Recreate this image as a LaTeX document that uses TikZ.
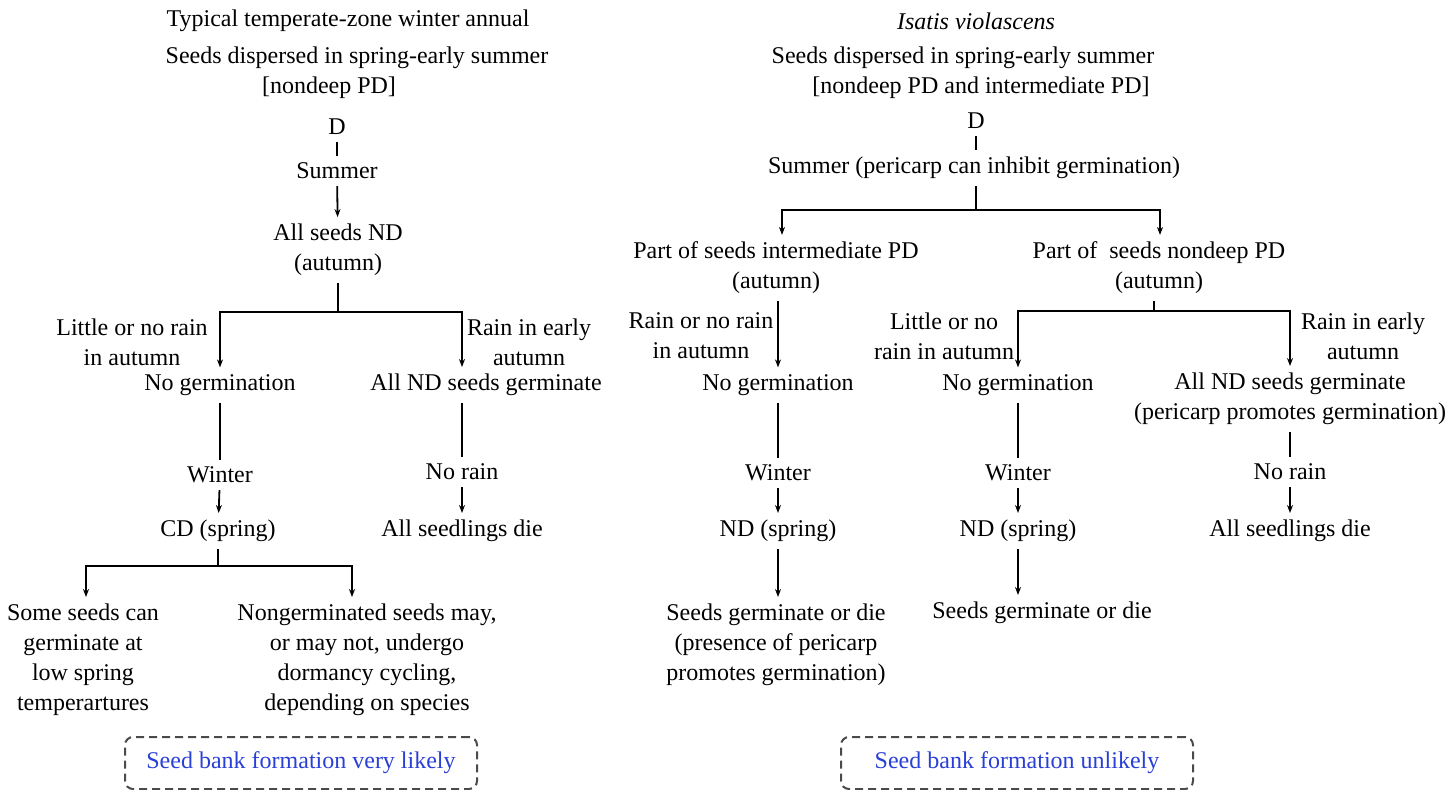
\documentclass[tikz,border=0pt]{standalone}
\usepackage{fontspec}
\setmainfont{Liberation Serif}
\usepackage{tikz}
\usetikzlibrary{arrows.meta,positioning,calc}
\definecolor{bankblue}{HTML}{2A3FD6}
\definecolor{bankgray}{HTML}{4A4A4A}

\begin{document}
\begin{tikzpicture}[
  x=0.5pt,y=-0.5pt,
  >={Stealth[length=4pt,width=3pt]},
  every node/.style={font=\fontsize{12}{15}\selectfont,align=center},
  flow/.style={->,line width=0.9pt},
  link/.style={line width=0.9pt},
  bank/.style={draw=bankgray,line width=1pt,dash pattern=on 4pt off 2.5pt,
    rounded corners=4pt,text=bankblue,minimum width=176pt,minimum height=26pt}
]
\useasboundingbox (0,0) rectangle (1456,790);

% typical winter annual
\node (titleL) at (348,21) {Typical temperate-zone winter annual};
\node (dispL) at (357,58) {Seeds dispersed in spring-early summer};
\node (pdL) at (329,88) {[nondeep PD]};
\node (DL) at (337,127) {D};
\node (summerL) at (337,171) {Summer};
\node (allNDL) at (338,250) {All seeds ND\\(autumn)};
\node (littleL) at (132,342) {Little or no rain\\in autumn};
\node (rainEarlyL) at (529,342) {Rain in early\\autumn};
\node (noGermL) at (220,385) {No germination};
\node (allGermL) at (486,385) {All ND seeds germinate};
\node (winterL) at (220,475) {Winter};
\node (noRainL) at (462,472) {No rain};
\node (cdL) at (218,531) {CD (spring)};
\node (dieL) at (462,531) {All seedlings die};
\node (someL) at (83,660) {Some seeds can\\germinate at\\low spring\\temperartures};
\node (nongL) at (367,660) {Nongerminated seeds may,\\or may not, undergo\\dormancy cycling,\\depending on species};
\node[bank] (bankL) at (301,763) {Seed bank formation very likely};

\coordinate (fL1) at (220,312);
\coordinate (fR1) at (462,312);
\coordinate (fL2) at (86,566);
\coordinate (fR2) at (352,566);

\draw[link] (DL) -- (summerL);
\draw[flow] (summerL) -- (allNDL);
\draw[flow] (allNDL.south) |- (fL1) -- (fL1 |- noGermL.north);
\draw[flow] (allNDL.south) |- (fR1) -- (fR1 |- allGermL.north);
\draw[link] (noGermL) -- (winterL);
\draw[flow] (winterL) -- (cdL);
\draw[flow] (cdL.south) |- (fL2) -- (fL2 |- someL.north);
\draw[flow] (cdL.south) |- (fR2) -- (fR2 |- nongL.north);
\draw[link] (allGermL.south -| noRainL) -- (noRainL);
\draw[flow] (noRainL) -- (dieL);

% Isatis violascens
\node (titleR) at (976,21) {\itshape Isatis violascens};
\node (dispR) at (963,58) {Seeds dispersed in spring-early summer};
\node (pdR) at (981,88) {[nondeep PD and intermediate PD]};
\node (DR) at (976,121) {D};
\node (summerR) at (974,168) {Summer (pericarp can inhibit germination)};
\node (partIntR) at (776,268) {Part of seeds intermediate PD\\(autumn)};
\node (partNonR) at (1159,268) {Part of \ seeds nondeep PD\\(autumn)};
\node (rainOrR) at (701,336) {Rain or no rain\\in autumn};
\node (littleR) at (944,336) {Little or no\\rain in autumn};
\node (rainEarlyR) at (1363,336) {Rain in early\\autumn};
\node (noGermR1) at (778,385) {No germination};
\node (noGermR2) at (1018,385) {No germination};
\node (allGermR) at (1290,399) {All ND seeds germinate\\(pericarp promotes germination)};
\node (winterR1) at (778,473) {Winter};
\node (winterR2) at (1018,473) {Winter};
\node (noRainR) at (1290,472) {No rain};
\node (ndR1) at (778,531) {ND (spring)};
\node (ndR2) at (1018,531) {ND (spring)};
\node (dieR) at (1290,531) {All seedlings die};
\node (germR1) at (776,645) {Seeds germinate or die\\(presence of pericarp\\promotes germination)};
\node (germR2) at (1042,613) {Seeds germinate or die};
\node[bank] (bankR) at (1017,763) {Seed bank formation unlikely};

\coordinate (fL3) at (782,210);
\coordinate (fR3) at (1160,210);
\coordinate (fM4) at (1154,311);

\draw[link] (DR) -- (summerR.north -| DR);
\draw[flow] (summerR.south -| DR) |- (fL3) -- (fL3 |- partIntR.north);
\draw[flow] (summerR.south -| DR) |- (fR3) -- (fR3 |- partNonR.north);
\draw[flow] (partIntR.south -| noGermR1) -- (noGermR1);
\draw[link] (noGermR1) -- (winterR1);
\draw[flow] (winterR1) -- (ndR1);
\draw[flow] (ndR1.south) -- (ndR1.south |- germR1.north);
\draw[link] (partNonR.south -| fM4) -- (fM4);
\draw[flow] (fM4) -| (noGermR2.north);
\draw[flow] (fM4) -| (allGermR.north);
\draw[link] (noGermR2) -- (winterR2);
\draw[flow] (winterR2) -- (ndR2);
\draw[flow] (ndR2.south) -- (ndR2.south |- germR2.north);
\draw[link] (allGermR) -- (noRainR);
\draw[flow] (noRainR) -- (dieR);
\end{tikzpicture}
\end{document}
